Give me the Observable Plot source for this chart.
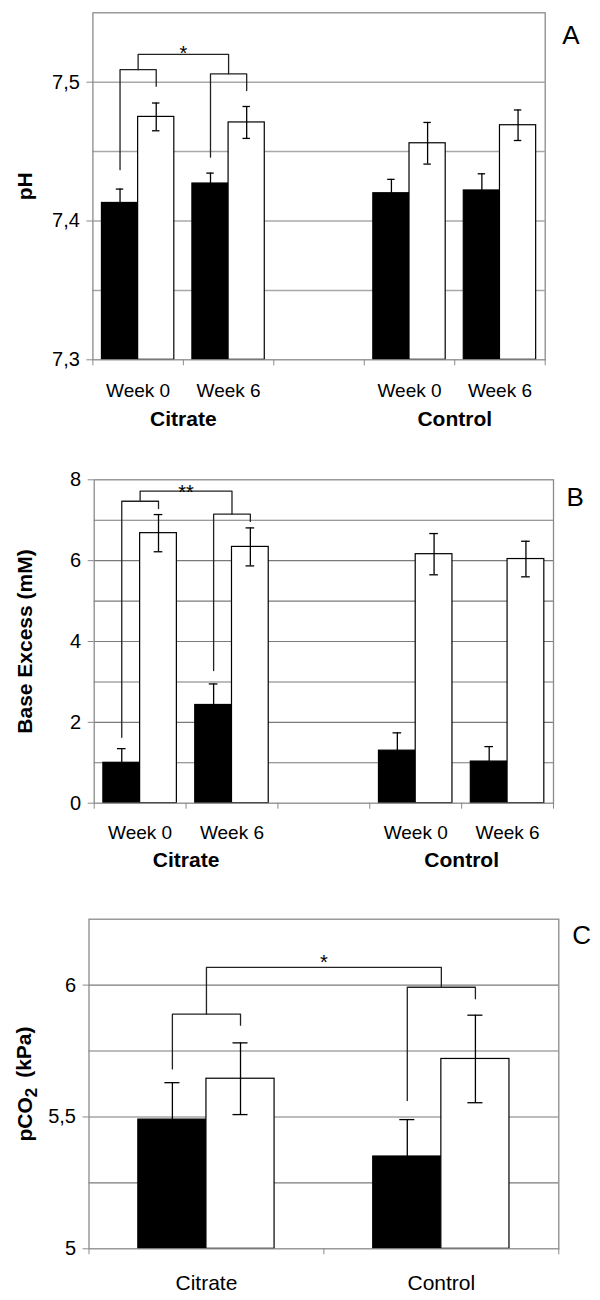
<!DOCTYPE html>
<html><head><meta charset="utf-8">
<script src="https://cdn.jsdelivr.net/npm/d3@7"></script>
<script src="https://cdn.jsdelivr.net/npm/@observablehq/plot@0.6"></script>
<style>
body{margin:0;background:#fff;width:600px;}
#chart svg{display:block;}
</style></head><body><div id="chart"></div>
<script>
// ---------- data ----------
const groups = ["Citrate", "Control"];
const weekLabels = ["Week 0", "Week 6"];

// Panel A: pH (order: Citrate W0, Citrate W6, Control W0, Control W6)
const phMeanBlack = [7.413, 7.427, 7.420, 7.422];
const phErrBlack  = [0.010, 0.0075, 0.010, 0.012];
const phMeanWhite = [7.475, 7.471, 7.456, 7.469];
const phErrWhite  = [0.010, 0.0115, 0.015, 0.011];
const phTicks = [7.3, 7.4, 7.5];
const phGrid  = [7.35, 7.4, 7.45, 7.5];
const phBrackets = [{left: 7.437, top: 7.509, right: 7.497}, {left: 7.446, top: 7.506, right: 7.494}];
const phTopLevel = 7.520;
const phStar = "*";

// Panel B: Base Excess (mM)
const beMeanBlack = [1.0, 2.43, 1.30, 1.03];
const beErrBlack  = [0.35, 0.52, 0.44, 0.37];
const beMeanWhite = [6.68, 6.34, 6.16, 6.04];
const beErrWhite  = [0.46, 0.47, 0.51, 0.44];
const beTicks = [0, 2, 4, 6, 8];
const beGrid  = [1, 2, 3, 4, 5, 6, 7];
const beBrackets = [{left: 1.63, top: 7.47, right: 7.29}, {left: 3.28, top: 7.15, right: 6.97}];
const beTopLevel = 7.72;
const beStar = "**";

// Panel C: pCO2 (kPa) (order: Citrate, Control)
const pcMeanBlack = [5.49, 5.35];
const pcErrBlack  = [0.14, 0.14];
const pcMeanWhite = [5.645, 5.72];
const pcErrWhite  = [0.136, 0.166];
const pcTicks = [5, 5.5, 6];
const pcGrid  = [5.25, 5.5, 5.75, 6];
const pcBrackets = [{left: 5.682, top: 5.890, right: 5.848}, {left: 5.562, top: 5.992, right: 5.948}];
const pcTopLevel = 6.067;
const pcStar = "*";

// ---------- helpers ----------
const comma = d => String(d).replace(".", ",");
const FONT = "'Liberation Sans', Arial, sans-serif";

function panel(cfg) {
  const {slots, slotLabels, groupSlots, meanB, errB, meanW, errW, base, domainY, pad, cap,
         ticks, grid, gridColor, gridWidth, brackets, topLevel, star, starDy, letter, letterDx, letterDy,
         yTitle, titleDx, weekDy, groupDy, labelSize,
         width, height, margins} = cfg;
  const cB = (pad + 0.5) / 2, cW = (0.5 + 1 - pad) / 2;
  const rows = [];
  slots.forEach((pos, i) => {
    rows.push({pos, s: 0, x1: pos + pad, x2: pos + 0.5, c: pos + cB, mean: meanB[i], err: errB[i]});
    rows.push({pos, s: 1, x1: pos + 0.5, x2: pos + 1 - pad, c: pos + cW, mean: meanW[i], err: errW[i]});
  });
  // significance brackets
  const pts = [];
  const mids = [];
  brackets.forEach((b, k) => {
    const p = slots[k];
    pts.push({id: k, x: p + cB, y: b.left}, {id: k, x: p + cB, y: b.top},
             {id: k, x: p + cW, y: b.top}, {id: k, x: p + cW, y: b.right});
    mids.push({x: p + (cB + cW) / 2, y: b.top});
  });
  pts.push({id: 9, x: mids[0].x, y: mids[0].y}, {id: 9, x: mids[0].x, y: topLevel},
           {id: 9, x: mids[1].x, y: topLevel}, {id: 9, x: mids[1].x, y: mids[1].y});
  const labelRows = slots.map((pos, i) => ({x: pos + 0.5, t: slotLabels[i]}));
  const marks = [
    Plot.ruleY(grid, {stroke: gridColor, strokeWidth: gridWidth}),
    Plot.rectY(rows, {x1: "x1", x2: "x2", y1: () => base, y2: "mean",
      fill: d => d.s ? "white" : "black", stroke: "black", strokeWidth: 1.2}),
    Plot.ruleX(rows, {x: "c", y1: d => d.mean - d.err, y2: d => d.mean + d.err, stroke: "black", strokeWidth: 1.3}),
    Plot.ruleY(rows, {y: d => d.mean + d.err, x1: d => d.c - cap, x2: d => d.c + cap, stroke: "black", strokeWidth: 1.3}),
    Plot.ruleY(rows, {y: d => d.mean - d.err, x1: d => d.c - cap, x2: d => d.c + cap, stroke: "black", strokeWidth: 1.3}),
    Plot.line(pts, {x: "x", y: "y", z: "id", stroke: "#222", strokeWidth: 1.3}),
    Plot.text([star], {x: () => (mids[0].x + mids[1].x) / 2, y: () => topLevel, text: d => d, fontSize: 20, dy: starDy}),
    Plot.frame({stroke: "#8a8a8a", strokeWidth: 1.3}),
    Plot.axisY({ticks, tickSize: 6, tickPadding: 7, tickFormat: comma, stroke: "#8a8a8a", fill: "black", fontSize: 20}),
    Plot.axisX({ticks: d3.range(cfg.xMax + 1), tickSize: 6, tickFormat: () => "", stroke: "#8a8a8a"}),
    Plot.text(labelRows, {x: "x", text: "t", frameAnchor: "bottom", lineAnchor: "top", dy: weekDy, fontSize: labelSize}),
    Plot.text([letter], {text: d => d, frameAnchor: "top-right", textAnchor: "start", lineAnchor: "top", dx: letterDx, dy: letterDy, fontSize: 26}),
    Plot.text([yTitle], {text: d => d, frameAnchor: "left", textAnchor: "middle", rotate: -90, dx: titleDx, fontSize: 21, fontWeight: "bold"})
  ];
  if (groupSlots) {
    marks.push(Plot.text(groups, {x: (d, i) => groupSlots[i], text: d => d, frameAnchor: "bottom", lineAnchor: "top",
      dy: groupDy, fontSize: 21, fontWeight: "bold"}));
  }
  return Plot.plot({
    width, height, ...margins,
    style: {fontFamily: FONT, fontSize: "20px", background: "white", color: "black", overflow: "visible"},
    x: {domain: [0, cfg.xMax]},
    y: {domain: domainY},
    marks
  });
}

const chart = document.getElementById("chart");

chart.append(panel({
  slots: [0, 1, 3, 4], slotLabels: [weekLabels[0], weekLabels[1], weekLabels[0], weekLabels[1]], groupSlots: [1, 4], xMax: 5,
  meanB: phMeanBlack, errB: phErrBlack, meanW: phMeanWhite, errW: phErrWhite, base: 7.3, domainY: [7.3, 7.55],
  pad: 0.1, cap: 0.041, ticks: phTicks, grid: phGrid, gridColor: "#a8a8a8", gridWidth: 1.5,
  brackets: phBrackets, topLevel: phTopLevel, star: phStar, starDy: -1,
  letter: "A", letterDx: 17, letterDy: 12.5, yTitle: "pH", titleDx: -67.8,
  weekDy: 23.2, groupDy: 50.8, labelSize: 19,
  width: 600, height: 430, margins: {marginTop: 12.3, marginBottom: 70.7, marginLeft: 92.4, marginRight: 55.3}
}));

chart.append(panel({
  slots: [0, 1, 3, 4], slotLabels: [weekLabels[0], weekLabels[1], weekLabels[0], weekLabels[1]], groupSlots: [1, 4], xMax: 5,
  meanB: beMeanBlack, errB: beErrBlack, meanW: beMeanWhite, errW: beErrWhite, base: 0, domainY: [0, 8],
  pad: 0.1, cap: 0.047, ticks: beTicks, grid: beGrid, gridColor: "#7a7a7a", gridWidth: 1.1,
  brackets: beBrackets, topLevel: beTopLevel, star: beStar, starDy: 1,
  letter: "B", letterDx: 13, letterDy: 7.4, yTitle: "Base Excess (mM)", titleDx: -68.8,
  weekDy: 22.1, groupDy: 49.1, labelSize: 19,
  width: 600, height: 445, margins: {marginTop: 49.3, marginBottom: 72.3, marginLeft: 93.7, marginRight: 47}
}));

const svgC = panel({
  slots: [0, 1], slotLabels: groups, groupSlots: null, xMax: 2,
  meanB: pcMeanBlack, errB: pcErrBlack, meanW: pcMeanWhite, errW: pcErrWhite, base: 5, domainY: [5, 6.25],
  pad: 0.21, cap: 0.032, ticks: pcTicks, grid: pcGrid, gridColor: "#7a7a7a", gridWidth: 1.1,
  brackets: pcBrackets, topLevel: pcTopLevel, star: pcStar, starDy: -4.5,
  letter: "C", letterDx: 13.4, letterDy: 6.3, yTitle: "pCO2 (kPa)", titleDx: -63.5,
  weekDy: 26.1, groupDy: 0, labelSize: 21,
  width: 600, height: 425, margins: {marginTop: 43.7, marginBottom: 51.7, marginLeft: 88.5, marginRight: 41.7}
});
chart.append(svgC);

// subscript for pCO2 title
d3.select(svgC).selectAll("text").each(function() {
  if (this.textContent === "pCO2 (kPa)") {
    const t = d3.select(this);
    t.text(null);
    t.append("tspan").text("pCO");
    t.append("tspan").attr("dy", "0.3em").attr("font-size", "80%").text("2");
    t.append("tspan").attr("dy", "-0.3em").attr("dx", "10").text("(kPa)");
  }
});
</script></body></html>
